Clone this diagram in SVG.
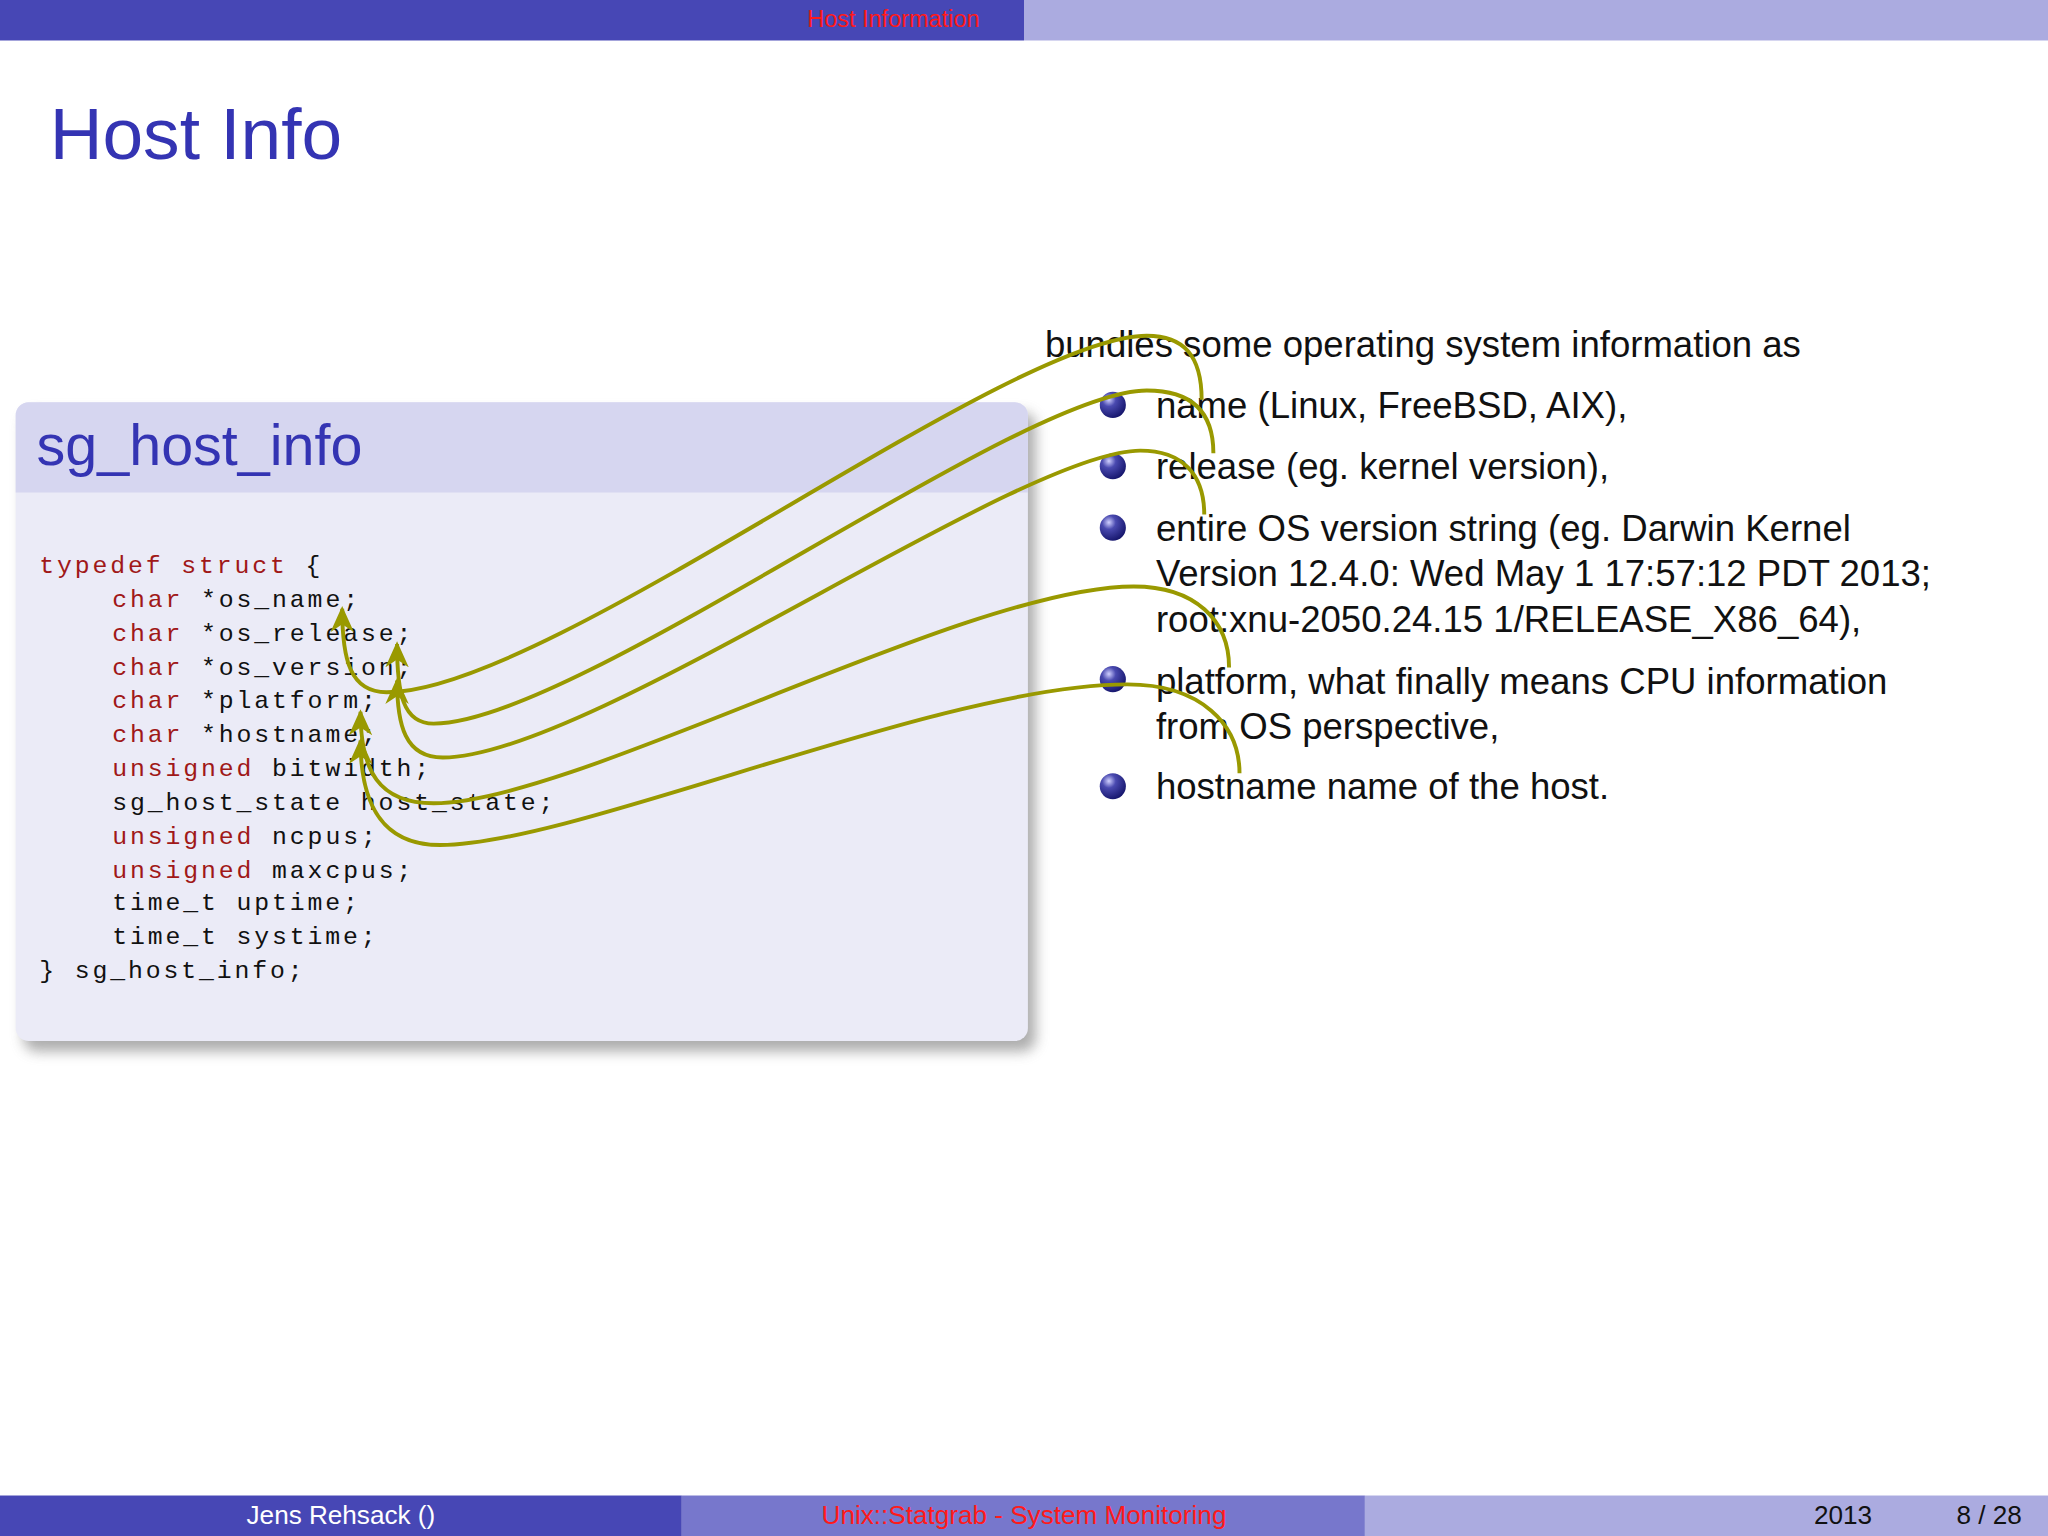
<svg xmlns="http://www.w3.org/2000/svg" width="2048" height="1536" viewBox="0 0 2048 1536">
<defs>
<radialGradient id="ball" cx="0.35" cy="0.3" r="0.75"><stop offset="0" stop-color="#d0d0ff"/><stop offset="0.35" stop-color="#4a4ab0"/><stop offset="1" stop-color="#14146a"/></radialGradient>
<marker id="ah" viewBox="0 0 20 20" refX="18" refY="10" markerWidth="20" markerHeight="20" markerUnits="userSpaceOnUse" orient="auto"><path d="M20,10 L0,1 L6,10 L0,19 Z" fill="#999900"/></marker>
<filter id="sh" x="-5%" y="-5%" width="115%" height="115%"><feGaussianBlur stdDeviation="5"/></filter>
</defs>
<style>
.code{font-family:"Liberation Mono",monospace;font-size:19px;letter-spacing:2.2px;fill:#111}
.kw{fill:#a01818}
.body{font-family:"Liberation Sans","DejaVu Sans",sans-serif;font-size:28px;fill:#111}
.conn{fill:none;stroke:#999900;stroke-width:3;marker-end:url(#ah)}
.foot{font-family:"Liberation Sans",sans-serif;font-size:20px}
</style>
<g transform="scale(1.306122)">
<g id="header">
<rect x="0" y="0" width="784" height="31" fill="#4747b5"/>
<rect x="784" y="0" width="784" height="31" fill="#ababe0"/>
<text x="684" y="21" text-anchor="middle" font-family="Liberation Sans,sans-serif" font-size="18" fill="#ff1a1a">Host Information</text>
</g>
<text x="38" y="122" font-family="Liberation Sans,sans-serif" font-size="56" fill="#3434b3">Host Info</text>
<g id="block">
<rect x="18" y="316" width="775" height="489" rx="10" fill="#777" opacity="0.6" filter="url(#sh)"/>
<rect x="12" y="308" width="775" height="489" rx="10" fill="#ebebf7"/>
<path d="M12,377 V318 a10,10 0 0 1 10,-10 H777 a10,10 0 0 1 10,10 V377 Z" fill="#d6d6f0"/>
<text x="28" y="356" font-family="Liberation Sans,sans-serif" font-size="44" fill="#3434b3">sg_host_info</text>
<text class="code" x="30" y="439"><tspan class="kw">typedef struct</tspan> {</text>
<text class="code" x="86" y="465"><tspan class="kw">char</tspan> *os_name;</text>
<text class="code" x="86" y="491"><tspan class="kw">char</tspan> *os_release;</text>
<text class="code" x="86" y="517"><tspan class="kw">char</tspan> *os_version;</text>
<text class="code" x="86" y="542"><tspan class="kw">char</tspan> *platform;</text>
<text class="code" x="86" y="568"><tspan class="kw">char</tspan> *hostname;</text>
<text class="code" x="86" y="594"><tspan class="kw">unsigned</tspan> bitwidth;</text>
<text class="code" x="86" y="620">sg_host_state host_state;</text>
<text class="code" x="86" y="646"><tspan class="kw">unsigned</tspan> ncpus;</text>
<text class="code" x="86" y="672"><tspan class="kw">unsigned</tspan> maxcpus;</text>
<text class="code" x="86" y="697">time_t uptime;</text>
<text class="code" x="86" y="723">time_t systime;</text>
<text class="code" x="30" y="749">} sg_host_info;</text>
</g>
<g id="list">
<text class="body" x="800" y="273">bundles some operating system information as</text>
<circle cx="852" cy="310" r="10" fill="url(#ball)"/>
<text class="body" x="885" y="320">name (Linux, FreeBSD, AIX),</text>
<circle cx="852" cy="357" r="10" fill="url(#ball)"/>
<text class="body" x="885" y="367">release (eg.  kernel version),</text>
<circle cx="852" cy="404" r="10" fill="url(#ball)"/>
<text class="body" x="885" y="414">entire OS version string (eg.  Darwin Kernel</text>
<text class="body" x="885" y="449">Version 12.4.0:  Wed May 1 17:57:12 PDT 2013;</text>
<text class="body" x="885" y="484">root:xnu-2050.24.15 1/RELEASE_X86_64),</text>
<circle cx="852" cy="520" r="10" fill="url(#ball)"/>
<text class="body" x="885" y="531">platform, what finally means CPU information</text>
<text class="body" x="885" y="566">from OS perspective,</text>
<circle cx="852" cy="602" r="10" fill="url(#ball)"/>
<text class="body" x="885" y="612">hostname name of the host.</text>
</g>
<g id="connectors">
<path class="conn" d="M920,306 C920,272 906,257 878,257 C770,257 420,530 296,530 C268,530 262,505 262,466"/>
<path class="conn" d="M929,347 C929,315 912,299 878,299 C780,299 440,554 332,554 C308,554 304,530 304,493"/>
<path class="conn" d="M922,394 C922,363 905,345 873,345 C780,345 450,580 339,580 C310,580 304,555 304,521"/>
<path class="conn" d="M941,511 C941,475 915,449 868,449 C740,449 440,615 332,615 C290,615 276,590 276,545"/>
<path class="conn" d="M949,592 C949,555 920,524 863,524 C720,524 440,647 337,647 C292,647 276,615 276,567"/>
</g>
<g id="footer">
<rect x="0" y="1145" width="522" height="31" fill="#4747b5"/>
<rect x="522" y="1145" width="523" height="31" fill="#7777cc"/>
<rect x="1045" y="1145" width="523" height="31" fill="#ababe0"/>
<text class="foot" x="261" y="1167" text-anchor="middle" fill="#fff">Jens Rehsack  ()</text>
<text class="foot" x="784" y="1167" text-anchor="middle" fill="#ff1a1a">Unix::Statgrab - System Monitoring</text>
<text class="foot" x="1411" y="1167" text-anchor="middle" fill="#111">2013</text>
<text class="foot" x="1548" y="1167" text-anchor="end" fill="#111">8 / 28</text>
</g>
</g>
</svg>
